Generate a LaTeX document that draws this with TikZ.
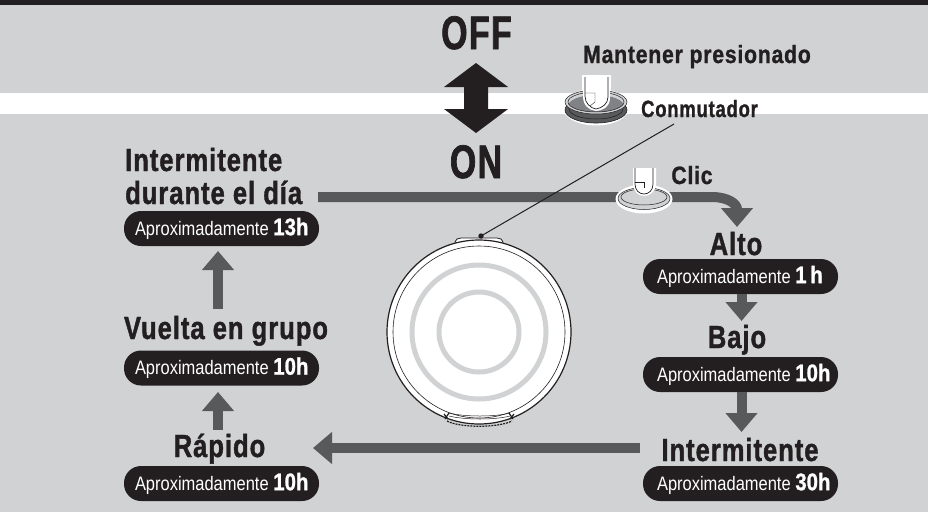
\documentclass[tikz,border=0pt]{standalone}
\usepackage{fontspec}
\setmainfont{Liberation Sans}
\newfontfamily\headfont[FakeStretch=0.80,LetterSpace=3,FakeBold=1.2]{Liberation Sans Bold}
\newfontfamily\bigfont[FakeStretch=0.72,LetterSpace=3,FakeBold=1.5]{Liberation Sans Bold}
\newfontfamily\smallfont[FakeStretch=0.85,LetterSpace=3,FakeBold=1]{Liberation Sans Bold}
\newfontfamily\swfont[FakeStretch=0.79,LetterSpace=3,FakeBold=1]{Liberation Sans Bold}
\newfontfamily\pillfont[FakeStretch=0.845]{Liberation Sans}
\newfontfamily\pillbold[FakeStretch=0.85,FakeBold=1]{Liberation Sans Bold}
\usetikzlibrary{arrows.meta}
\definecolor{bg}{RGB}{208,210,211}
\definecolor{ink}{RGB}{35,31,32}
\definecolor{flowc}{RGB}{88,89,91}
\definecolor{midg}{RGB}{128,130,133}
\tikzset{x=1pt,y=-1pt,
  head/.style={font=\headfont\fontsize{32}{33}\selectfont,text=ink,inner sep=0pt,anchor=base},
  small/.style={font=\smallfont\fontsize{25}{25}\selectfont,text=ink,inner sep=0pt,anchor=base},
  big/.style={font=\bigfont\fontsize{47}{47}\selectfont,text=ink,inner sep=0pt,anchor=base},
  pill/.style={fill=ink,rounded corners=17pt,minimum height=35pt,minimum width=195pt,inner sep=0pt,text=white,anchor=center,
     font=\pillfont\fontsize{19.5}{20}\selectfont},
  flow/.style={draw=flowc,line width=10pt,-{Triangle[width=31pt,length=19pt]}},
  wline/.style={draw=ink,line width=0.7pt,fill=white},
}
\newcommand{\hrs}[1]{\makebox[195pt][l]{\hspace{11pt}Aproximadamente {\pillbold\fontsize{24}{20}\selectfont #1}}}
\newcommand{\hrsr}[1]{\makebox[195pt][l]{\hspace{14pt}Aproximadamente {\pillbold\fontsize{24}{20}\selectfont #1}}}
\begin{document}
\begin{tikzpicture}
\useasboundingbox (0,0) rectangle (928,512);
\fill[bg] (0,0) rectangle (928,512);
\fill[ink] (0,0) rectangle (928,5);
\fill[white] (0,93) rectangle (928,114);
% OFF/ON
\node[big] (off) at (476.5,49) {OFF};
\node[big] (on) at (476,178) {ON};
\fill[ink] (476,63) -- (508,87) -- (488,87) -- (488,109) -- (508,109) -- (476,133) -- (444,109) -- (464,109) -- (464,87) -- (444,87) -- cycle;
% labels
\node[small] (hold) at (697,63) {Mantener presionado};
\node[small,font=\swfont\fontsize{23.5}{24}\selectfont] (sw) at (699.5,117) {Conmutador};
\node[small] (clic) at (692,184) {Clic};
\node[head,anchor=base west] (day) at (125,171) {Intermitente};
\node[head,anchor=base west] (day2) at (125,204) {durante el día};
\node[pill] (pday) at (221.5,228.5) {\hrs{13h}};
\node[head] (group) at (226,339) {Vuelta en grupo};
\node[pill] (pgroup) at (221.5,368) {\hrs{10h}};
\node[head] (fast) at (219.5,457) {Rápido};
\node[pill] (pfast) at (221.5,483.5) {\hrs{10h}};
\node[head] (high) at (736,255) {Alto};
\node[pill] (phigh) at (740.5,276.5) {\hrsr{1\hspace{-2pt} h}};
\node[head] (low) at (737,348) {Bajo};
\node[pill] (plow) at (740.5,374.5) {\hrsr{10h}};
\node[head] (blink) at (740,461) {Intermitente};
\node[pill] (pblink) at (740.5,483.5) {\hrsr{30h}};
% flow connectors
\coordinate (startline) at (318,197);
\coordinate (bend) at (712,197);
\coordinate (tipA) at (737,227);
\coordinate (tipB) at (741.5,321);
\coordinate (tipC) at (741.5,432);
\coordinate (tailD) at (640,448);
\coordinate (tipD) at (313,448);
\coordinate (tipE) at (218,392);
\coordinate (tailE) at (218,430);
\coordinate (tipF) at (218,251);
\coordinate (tailF) at (218,309);
\draw[flow] (startline) -- (bend) .. controls (728,197) and (737,204) .. (tipA);
\draw[flow] (phigh.south -| tipB) -- (tipB);
\draw[flow] (plow.south -| tipC) -- (tipC);
\draw[flow] (tailD) -- (tipD);
\draw[flow] (tailE) -- (tipE);
\draw[flow] (tailF) -- (tipF);
% device
\coordinate (dev) at (479,332);
\draw[wline,line width=0.8pt] (455,247) -- (455,242) .. controls (455,239.5) and (458,238) .. (461,238) -- (497,238) .. controls (500,238) and (503,239.5) .. (503,242) -- (503,247);
\draw[ink,line width=0.5pt] (458,244) -- (500,244);
\draw[draw=ink,fill=white,line width=1.2pt] (dev) circle (92);
\draw[ink,line width=0.6pt] (dev) circle (86);
\draw[bg,line width=5pt] (dev) circle (67);
\draw[bg,line width=5pt] (dev) circle (40);
\draw[ink,line width=0.5pt] (449,416) .. controls (465,420) and (495,420) .. (510,416);
\draw[ink,line width=0.5pt] (449,413) .. controls (465,417) and (495,417) .. (510,413);
\draw[ink,line width=1.2pt] (444,414) -- (448,419) (445,419) -- (449,413) (514,414) -- (510,419) (513,419) -- (509,413);
\draw[ink,line width=1.2pt,dash pattern=on 2pt off 1pt] (447,421) .. controls (460,428) and (498,428) .. (512,421);
\fill[ink] (481,236) circle (2.7);
\coordinate (lead) at (674,124);
\draw[ink,line width=1pt] (481,236) -- (lead);
% hold button
\fill[white] (596,107) ellipse (33.5 and 18.5);
\fill[white] (581.5,75) rectangle (610.5,100);
\draw[ink,fill=flowc,line width=0.6pt] (596,110) ellipse (31 and 13);
\draw[ink,line width=0.5pt] (596,109) ellipse (27 and 10);
\draw[ink,fill=bg,line width=0.5pt] (596,102) ellipse (31 and 12);
\begin{scope}
\clip (596,102) ellipse (28 and 10);
\fill[midg] (596,106) ellipse (28 and 11);
\end{scope}
\draw[ink,line width=0.5pt] (596,102) ellipse (28 and 10);
\path[fill=white] (583,75) -- (610,75) -- (610,98) .. controls (610,107) and (602,111) .. (596,111) .. controls (589,110) and (583,106) .. (583,96) -- cycle;
\draw[ink,line width=0.7pt] (585,77) -- (585,96) .. controls (585,103) and (590,108) .. (596,109) .. controls (602,108) and (608,104) .. (608,97) -- (608,77);
\draw[ink,line width=0.4pt] (585,93) -- (595,93) -- (595,102) -- (590,106);
% click button
\fill[white] (644,199) ellipse (28.5 and 14.5);
\fill[bg] (644,198.5) ellipse (26 and 11);
\draw[ink,line width=0.5pt] (644,198.5) ellipse (26 and 11);
\draw[ink,line width=0.5pt] (644,197) ellipse (23 and 8);
\fill[white] (633,168) -- (656,168) -- (656,184) .. controls (656,191) and (650,196) .. (644,196) .. controls (638,196) and (633,191) .. (633,184) -- cycle;
\draw[ink,line width=0.7pt] (635,168) -- (635,184) .. controls (635,190) and (639,194) .. (644,194) .. controls (649,194) and (653,190) .. (653,184) -- (653,168);
\draw[ink,line width=0.4pt] (635,182) -- (644,182) -- (644,188);
\end{tikzpicture}
\end{document}
